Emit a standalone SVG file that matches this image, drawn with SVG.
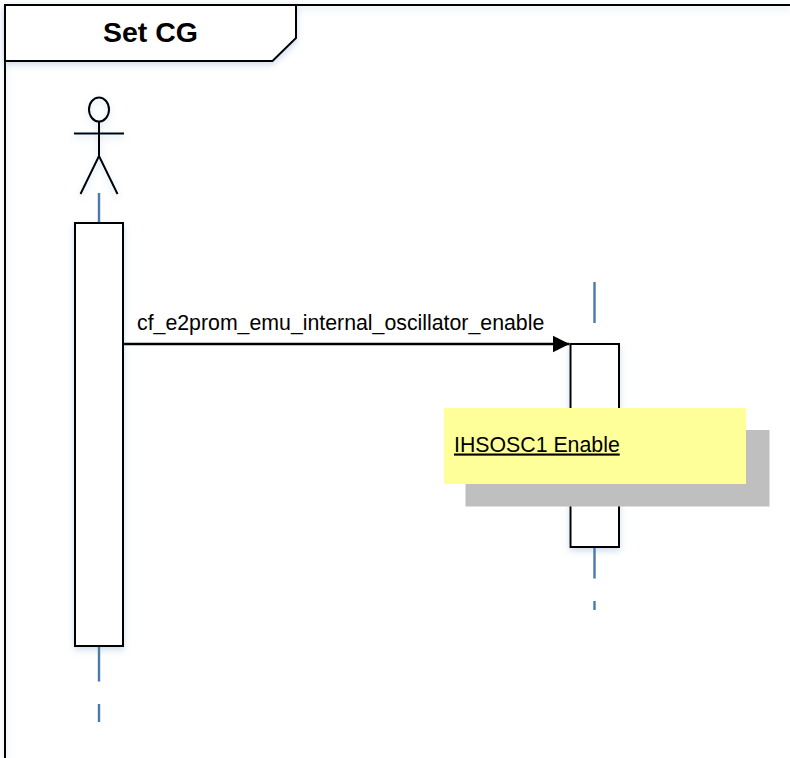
<svg xmlns="http://www.w3.org/2000/svg" width="790" height="758" viewBox="0 0 790 758">
<style>
.ln{fill:none;stroke:#000;stroke-width:2}
.box{fill:#fff;stroke:#000;stroke-width:2}
.life{fill:none;stroke:#4a7aad;stroke-width:2.4}
.lbl{font-family:"Liberation Sans",Arial,sans-serif;font-size:21.3px;fill:#000}
</style>
<defs>
<filter id="glow" x="-20%" y="-20%" width="140%" height="140%"><feDropShadow dx="0" dy="3" stdDeviation="3" flood-color="#4f81bd" flood-opacity="0.28"/></filter>
<filter id="soft" x="-5%" y="-10%" width="110%" height="120%"><feGaussianBlur stdDeviation="0.6"/></filter>
<marker id="arrow" markerUnits="userSpaceOnUse" markerWidth="18" markerHeight="18" refX="17" refY="9" orient="auto"><path d="M0 0.5L17 9L0 17.5Z" fill="#000"/></marker>
</defs>
<rect width="790" height="758" fill="#fff"/>
<g id="frame">
<path class="ln" d="M5 758V5H790" filter="url(#glow)"/>
<path d="M5 5H296V38L272.500 61H5Z" fill="#fff" stroke="#000" stroke-width="2" filter="url(#glow)"/>
<text x="150.500" y="41.500" text-anchor="middle" font-family="'Liberation Sans',Arial,sans-serif" font-size="28.500px" font-weight="700" fill="#000">Set CG</text>
</g>
<g id="connectors">
<path class="life" d="M99 193V222M99 647V681.500M99 704V722"/>
<path class="life" d="M594.500 282V323M594.500 548V578.500M594.500 601V610"/>
<path d="M124 344H569.500" fill="none" stroke="#000" stroke-width="2.400" marker-end="url(#arrow)"/>
<text class="lbl" x="137" y="330">cf_e2prom_emu_internal_oscillator_enable</text>
</g>
<g id="actor" filter="url(#glow)">
<ellipse cx="99" cy="109.500" rx="10" ry="12" class="ln"/>
<path class="ln" d="M99 121.500V156M74 133.500H124M99 156L80.500 194M99 156L117.500 194"/>
</g>
<g id="activation-left"><rect class="box" x="75" y="223" width="48" height="423" filter="url(#glow)"/></g>
<g id="activation-right"><rect class="box" x="570.500" y="344" width="48.500" height="203" filter="url(#glow)"/></g>
<g id="note">
<rect x="465.500" y="430" width="304" height="76.500" fill="#bfbfbf" filter="url(#soft)"/>
<rect x="444" y="408" width="302" height="76" fill="#ffff99"/>
<text class="lbl" x="454" y="451.500" text-decoration="underline">IHSOSC1 Enable</text>
</g>
</svg>
